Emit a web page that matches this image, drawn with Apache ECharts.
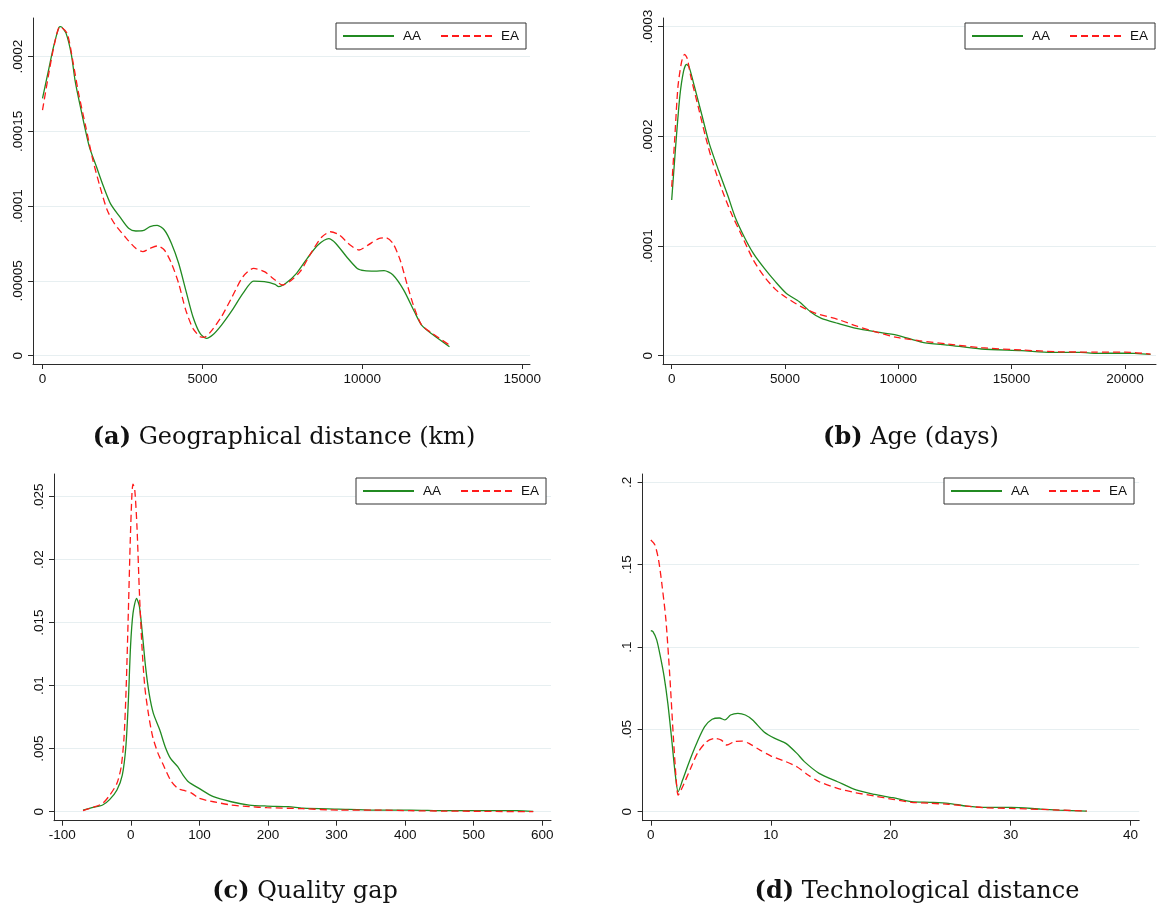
<!DOCTYPE html>
<html>
<head>
<meta charset="utf-8">
<script src="https://cdn.jsdelivr.net/npm/echarts@6/dist/echarts.min.js"></script>
<style>
html,body{margin:0;padding:0;background:#fff;}
#chart{width:1157px;height:909px;}
</style>
</head>
<body>
<div id="chart"></div>
<script>
// ---------------- DATA ----------------
// Panel (a) Geographical distance (km)
const aAA_x = [0,179,346,514,570,737,905,1016,1184,1463,1687,1910,2133,2413,2692,2915,3139,3362,3586,3809,4032,4256,4479,4703,4926,5127,5317,5596,5931,6266,6601,6937,7272,7383,7607,7942,8277,8612,8947,9171,9506,9841,10064,10399,10679,10958,11293,11628,11852,12187,12723];
const aAA_y = [0.0001721,0.000190,0.0002067,0.0002196,0.0002201,0.0002156,0.0002011,0.0001844,0.0001666,0.0001398,0.0001264,0.000113,0.0001014,0.000093,0.0000852,0.0000834,0.0000836,0.0000863,0.0000872,0.0000841,0.0000751,0.0000618,0.0000439,0.0000261,0.0000149,0.0000116,0.0000138,0.0000205,0.0000305,0.0000417,0.0000499,0.0000495,0.0000477,0.0000462,0.0000484,0.0000551,0.0000651,0.000074,0.0000783,0.0000751,0.0000662,0.0000584,0.0000569,0.0000566,0.0000569,0.000054,0.0000439,0.0000294,0.0000205,0.0000143,0.000006];
const aEA_x = [0,179,346,547,771,961,1128,1352,1575,1798,2022,2245,2580,2915,3139,3362,3586,3809,4032,4256,4479,4703,4926,5060,5261,5596,5931,6266,6601,6937,7272,7495,7719,8054,8389,8724,9003,9283,9618,9897,10176,10511,10735,10958,11181,11405,11628,11852,12187,12723];
const aEA_y = [0.0001643,0.0001866,0.0002056,0.0002201,0.0002156,0.0001955,0.0001755,0.0001532,0.0001309,0.000113,0.0000974,0.0000885,0.0000796,0.0000718,0.0000696,0.0000718,0.0000734,0.0000707,0.0000618,0.0000484,0.0000305,0.0000183,0.0000127,0.0000123,0.0000161,0.0000261,0.0000395,0.0000528,0.0000584,0.0000562,0.0000506,0.0000473,0.0000495,0.0000562,0.0000685,0.0000792,0.0000829,0.0000807,0.000074,0.0000707,0.000074,0.0000783,0.0000789,0.0000751,0.000064,0.0000473,0.0000317,0.0000205,0.0000149,0.0000071];
const aXTicks = [0,5000,10000,15000];
const aXLabels = ['0','5000','10000','15000'];
const aYTicks = [0,0.00005,0.0001,0.00015,0.0002];
const aYLabels = ['0','.00005','.0001','.00015','.0002'];

// Panel (b) Age (days)
const bAA_x = [0,162,357,519,649,763,1006,1331,1655,2061,2467,2792,3197,3603,4090,4577,5064,5632,6119,6606,7336,8147,8959,9933,11069,12205,13666,15451,16749,18048,18697,19995,21131];
const bAA_y = [0.000142,0.0001876,0.0002362,0.000259,0.0002657,0.0002636,0.0002453,0.0002195,0.0001936,0.0001693,0.0001465,0.0001268,0.0001085,0.0000933,0.0000796,0.0000675,0.0000568,0.0000492,0.0000401,0.000034,0.0000295,0.0000249,0.0000219,0.0000188,0.0000122,0.0000097,0.0000061,0.0000046,0.000003,0.000003,0.0000021,0.0000024,0.0000012];
const bEA_x = [0,130,276,438,568,682,844,1169,1493,1818,2224,2629,3116,3603,4090,4577,5064,5713,6362,7336,8147,8959,9933,10907,12205,13666,15451,17074,18697,19995,21131];
const bEA_y = [0.000154,0.0001967,0.0002453,0.0002681,0.0002748,0.0002712,0.0002544,0.0002271,0.0001997,0.0001754,0.0001511,0.0001298,0.0001085,0.0000872,0.000072,0.0000605,0.0000529,0.0000447,0.0000386,0.0000331,0.0000271,0.0000219,0.0000167,0.0000137,0.0000106,0.0000073,0.0000052,0.0000036,0.0000033,0.0000033,0.0000015];
const bXTicks = [0,5000,10000,15000,20000];
const bXLabels = ['0','5000','10000','15000','20000'];
const bYTicks = [0,0.0001,0.0002,0.0003];
const bYLabels = ['0','.0001','.0002','.0003'];

// Panel (c) Quality gap
const cAA_x = [-69.8,-56.8,-41.2,-30.7,-20.3,-12.5,-7.3,-3.6,-0.5,3.1,8.3,12.5,17.2,21.4,26.6,32.8,42.2,50,57.8,68.3,76.1,83.9,99.5,120.4,146.4,172.5,198.5,229.8,250.7,302.8,354.9,407,459,511,563,586.8];
const cAA_y = [0.00013,0.00032,0.00053,0.00098,0.00172,0.00291,0.00516,0.00886,0.0131,0.01574,0.01693,0.01627,0.01389,0.01151,0.00939,0.0078,0.00648,0.00516,0.00423,0.00357,0.00291,0.00238,0.00185,0.00119,0.00079,0.00053,0.00045,0.0004,0.00029,0.00021,0.00013,0.00013,0.00008,0.00008,0.00008,0.00002];
const cEA_x = [-69.8,-56.8,-41.2,-30.7,-20.3,-14.1,-9.9,-6.8,-3.6,-1,1.6,3.1,5.7,8.9,12.5,16.2,20.3,25.5,31.8,39.6,47.4,57.8,68.3,78.7,89.1,99.5,120.4,146.4,172.5,198.5,250.7,302.8,354.9,407,459,511,586.8];
const cEA_y = [0.00008,0.00032,0.00066,0.00132,0.00225,0.00357,0.00595,0.00992,0.016,0.0213,0.02526,0.026,0.02553,0.02262,0.01733,0.0131,0.00992,0.0078,0.00595,0.00463,0.0037,0.00251,0.00185,0.00167,0.00146,0.00106,0.00079,0.00053,0.0004,0.00032,0.00024,0.00013,0.00013,0.00008,0.00005,0.00003,0.0];
const cXTicks = [-100,0,100,200,300,400,500,600];
const cXLabels = ['-100','0','100','200','300','400','500','600'];
const cYTicks = [0,0.005,0.01,0.015,0.02,0.025];
const cYLabels = ['0','.005','.01','.015','.02','.025'];

// Panel (d) Technological distance
const dAA_x = [0,0.18,0.49,0.8,1.11,1.42,1.72,2.03,2.28,2.65,3.26,3.88,4.49,5.11,5.72,6.18,6.65,7.26,7.88,8.49,9.42,10.34,11.26,12.18,12.8,14.03,15.57,17.11,18.65,20.18,21.72,23.26,24.8,26.34,27.88,30.03,32.49,34.03,36.34];
const dAA_y = [0.1099,0.1093,0.1043,0.0941,0.082,0.0658,0.0455,0.0233,0.0121,0.0192,0.0314,0.0425,0.0516,0.0561,0.0569,0.0557,0.0587,0.0597,0.0587,0.0557,0.0486,0.0445,0.0415,0.0354,0.0304,0.0233,0.0182,0.0132,0.0105,0.0085,0.0061,0.0057,0.0051,0.0034,0.0026,0.0026,0.0016,0.001,0.0004];
const dEA_x = [0,0.34,0.65,0.95,1.26,1.57,1.88,2.12,2.28,2.65,3.26,3.88,4.65,5.35,5.88,6.34,6.95,7.57,8.18,9.11,10.03,11.26,12.18,13.11,14.03,15.57,17.11,18.65,20.18,21.72,23.26,24.8,26.34,27.88,30.03,32.49,34.03,36.34];
const dEA_y = [0.165,0.162,0.1528,0.1366,0.1164,0.084,0.0455,0.0192,0.0101,0.0152,0.0253,0.0354,0.0425,0.0445,0.0435,0.0405,0.0425,0.0429,0.0415,0.0374,0.0338,0.0304,0.0273,0.0223,0.0182,0.0142,0.0115,0.0095,0.0075,0.0057,0.0051,0.0045,0.0034,0.0024,0.002,0.0014,0.001,0.0004];
const dXTicks = [0,10,20,30,40];
const dXLabels = ['0','10','20','30','40'];
const dYTicks = [0,0.05,0.1,0.15,0.2];
const dYLabels = ['0','.05','.1','.15','.2'];

const seriesNames = ['AA','EA'];
const captionsTag = ['(a)','(b)','(c)','(d)'];
const captionsText = ['Geographical distance (km)','Age (days)','Quality gap','Technological distance'];

// ---------------- LAYOUT / STYLE ----------------
const FONT = 'Liberation Sans, Arial, sans-serif';
const GREEN = '#218a21';
const RED = '#ff1a1a';
const AXIS = '#2b2b2b';
const GRIDC = '#e7eff1';

const panels = [
  {grid:{left:33,top:18,width:497,height:346}, x:[-297,15241], y:[-0.00000555,0.00022589],
   xt:aXTicks, xl:aXLabels, yt:aYTicks, yl:aYLabels, aa:[aAA_x,aAA_y], ea:[aEA_x,aEA_y], leg:{left:336,top:23}, cap:[284,438]},
  {grid:{left:663,top:18,width:493,height:346}, x:[-384,21372], y:[-0.00000757,0.00030792],
   xt:bXTicks, xl:bXLabels, yt:bYTicks, yl:bYLabels, aa:[bAA_x,bAA_y], ea:[bEA_x,bEA_y], leg:{left:965,top:23}, cap:[911,438]},
  {grid:{left:54,top:474,width:497,height:346.7}, x:[-112.1,612.7], y:[-0.000714,0.026802],
   xt:cXTicks, xl:cXLabels, yt:cYTicks, yl:cYLabels, aa:[cAA_x,cAA_y], ea:[cEA_x,cEA_y], leg:{left:356,top:478}, cap:[305,892]},
  {grid:{left:642.6,top:474,width:496.6,height:346.7}, x:[-0.684,40.716], y:[-0.00546,0.20504],
   xt:dXTicks, xl:dXLabels, yt:dYTicks, yl:dYLabels, aa:[dAA_x,dAA_y], ea:[dEA_x,dEA_y], leg:{left:944,top:478}, cap:[917,892]}
];

function zip(xs, ys){ return xs.map((x,i)=>[x, ys[i]]); }
function labeler(ticks, labels){
  return function(v){
    let best = 0, bd = Infinity;
    ticks.forEach((t,i)=>{ const d = Math.abs(t-v); if(d<bd){bd=d;best=i;} });
    return labels[best];
  };
}

const option = {
  backgroundColor:'#fff',
  animation:false,
  grid:[], xAxis:[], yAxis:[], series:[], legend:[], graphic:[]
};

panels.forEach((p,i)=>{
  option.grid.push(Object.assign({containLabel:false}, p.grid));
  option.xAxis.push({
    type:'value', gridIndex:i, min:p.x[0], max:p.x[1],
    axisLine:{show:true, onZero:false, lineStyle:{color:AXIS, width:1}},
    axisTick:{show:true, length:5, customValues:p.xt, lineStyle:{color:AXIS}},
    axisLabel:{customValues:p.xt, formatter:labeler(p.xt,p.xl), color:'#111', fontFamily:FONT, fontSize:13.5, margin:8},
    splitLine:{show:false}
  });
  option.yAxis.push({
    type:'value', gridIndex:i, min:p.y[0], max:p.y[1],
    axisLine:{show:true, onZero:false, lineStyle:{color:AXIS, width:1}},
    axisTick:{show:true, length:5, customValues:p.yt, lineStyle:{color:AXIS}},
    axisLabel:{customValues:p.yt, formatter:labeler(p.yt,p.yl), rotate:90, color:'#111', fontFamily:FONT, fontSize:13.5, margin:8},
    splitLine:{show:true, lineStyle:{color:GRIDC, width:1}}
  });
  option.series.push({
    name:seriesNames[0], type:'line', xAxisIndex:i, yAxisIndex:i, data:zip(p.aa[0],p.aa[1]),
    symbol:'none', showSymbol:false, smooth:0.25, lineStyle:{color:GREEN, width:1.3}, itemStyle:{color:GREEN}, z:3
  });
  option.series.push({
    name:seriesNames[1], type:'line', xAxisIndex:i, yAxisIndex:i, data:zip(p.ea[0],p.ea[1]),
    symbol:'none', showSymbol:false, smooth:0.25, lineStyle:{color:RED, width:1.3, type:[7,4]}, itemStyle:{color:RED}, z:4
  });
  option.legend.push({
    data:seriesNames, left:p.leg.left, top:p.leg.top, orient:'horizontal',
    itemWidth:51, itemHeight:14, itemGap:19,
    itemStyle:{opacity:0, borderWidth:0},
    borderColor:'#333', borderWidth:1, borderRadius:0, padding:[6,7,6,6],
    backgroundColor:'#fff', selectedMode:false,
    textStyle:{fontFamily:FONT, fontSize:13.5, color:'#111', padding:[0,0,0,4]}
  });
  option.graphic.push({
    type:'text', x:p.cap[0], y:p.cap[1],
    style:{
      text:'{b|'+captionsTag[i]+'} '+captionsText[i],
      align:'center', verticalAlign:'middle',
      font:'24px "DejaVu Serif", serif', fill:'#111',
      rich:{ b:{fontWeight:'bold', fontFamily:'DejaVu Serif', fontSize:24, fill:'#111'} }
    }
  });
});

const chart = echarts.init(document.getElementById('chart'), null, {renderer:'canvas'});
chart.setOption(option);
</script>
</body>
</html>
